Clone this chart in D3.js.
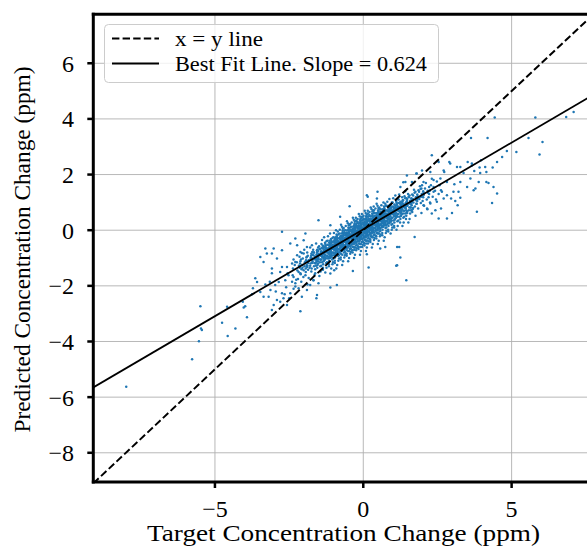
<!doctype html>
<html lang="en">
<head>
    <meta charset="utf-8">
    <title>Predicted vs Target</title>
    <script src="https://d3js.org/d3.v7.min.js"></script>
    <style>
        body { margin: 0; background: #fff; }
    </style>
</head>
<body>
<script>
    // axis ticks and fit
    var xTicks = [-5, 0, 5];
    var yTicks = [-8, -6, -4, -2, 0, 2, 4, 6];
    var slope = 0.624, intercept = 0.03;

    // [target, predicted] pairs
    var lowerTail = [
        [-7.99,-5.63],[-5.77,-4.64],[-5.54,-3.99],[-5.49,-2.73],[-5.47,-3.53],[-5.44,-3.59],[-4.76,-3.33],[-4.59,-2.75],
        [-4.57,-3.80],[-4.31,-3.53],[-4.06,-2.57],[-3.92,-3.13],[-4.03,-2.78],[-3.98,-2.73],[-3.75,-2.30],[-3.64,-1.73],
        [-3.58,-1.86],[-3.72,-2.09],[-3.47,-2.22],[-3.36,-2.39],[-3.19,-2.39],[-3.08,-2.87],[-3.02,-2.69],[-2.91,-2.51],
        [-2.80,-2.57],[-2.69,-2.45],[-2.74,-2.27],[-2.57,-2.69],[-2.46,-2.27],[-2.12,-2.91],[-3.13,-2.15],[-2.97,-1.97],
        [-2.85,-1.86],[-2.63,-1.80],[-2.52,-1.62],[-3.08,-1.38],[-3.08,-1.55],[-2.80,-1.50],[-2.74,-1.32],[-2.57,-1.32],
        [-2.40,-1.20],[-2.29,-1.14],[-2.23,-0.90],[-2.12,-0.78],[-2.91,-1.02],[-3.08,-0.84],[-3.47,-0.96],[-3.36,-1.14],
        [-3.25,-0.84],[-3.30,-0.66],[-3.02,-0.66],[-2.74,-0.72],[-2.46,-0.48],[-2.29,-0.30],[-2.23,-0.54],[-2.74,-0.06],
        [-2.01,-0.36],[-1.95,-0.12],[-2.07,-2.39],[-1.90,-2.15],[-1.79,-1.97],[-1.68,-1.80],[-1.62,-1.55],[-1.51,-1.91],
        [-1.56,-2.33],[-2.18,-2.09],[-2.29,-1.91],[-2.35,-1.68],[-2.12,-1.55],[-2.01,-1.44],[-1.90,-1.32],[-1.84,-1.08],
        [-1.68,-0.90],[-1.56,-0.72],[-1.73,-0.54],[-1.90,-0.60],[-2.01,-0.84],[-3.30,-1.95],[-2.95,-2.20],[-2.60,-2.05],
        [-2.40,-1.85],[-2.65,-2.30],[-3.15,-1.85],[-2.50,-2.45],[-2.35,-2.10],[-2.20,-1.75],[-2.55,-1.55]
    ];

    var core = [
        [-2.38,-1.62],[-2.31,-1.25],[-2.26,-1.78],[-2.35,-1.05],[-2.22,-1.45],[-2.29,-2.02],[-2.37,-1.38],[-2.24,-1.15],
        [-2.18,-1.50],[-2.12,-1.12],[-2.05,-1.35],[-2.15,-0.95],[-2.02,-1.68],[-2.09,-1.85],[-2.17,-1.28],[-2.04,-1.02],
        [-2.11,-1.58],[-2.07,-0.82],
        [-1.98,-1.30],[-1.92,-0.98],[-1.86,-1.42],[-1.95,-1.62],[-1.83,-1.08],[-1.89,-0.80],[-1.97,-1.15],[-1.84,-1.72],
        [-1.91,-1.25],[-1.87,-0.92],[-1.94,-1.50],[-1.81,-1.35],[-1.99,-0.70],[-1.88,-1.95],
        [-1.78,-1.20],[-1.72,-0.88],[-1.66,-1.30],[-1.75,-1.48],[-1.63,-0.95],[-1.69,-0.70],[-1.77,-1.02],[-1.64,-1.60],
        [-1.71,-1.12],[-1.67,-0.80],[-1.74,-1.38],[-1.61,-1.20],[-1.79,-0.62],[-1.68,-1.80],[-1.62,-1.05],[-1.76,-0.92],
        [-1.58,-1.05],[-1.52,-0.75],[-1.46,-1.15],[-1.55,-1.35],[-1.43,-0.82],[-1.49,-0.58],[-1.57,-0.90],[-1.44,-1.48],
        [-1.51,-1.00],[-1.47,-0.68],[-1.54,-1.25],[-1.41,-1.05],[-1.59,-0.48],[-1.48,-1.65],[-1.42,-0.92],[-1.56,-0.78],
        [-1.45,-1.30],[-1.53,-1.12],[-1.40,-0.65],[-1.50,-0.85],
        [-1.38,-0.92],[-1.32,-0.62],[-1.26,-1.02],[-1.35,-1.22],[-1.23,-0.70],[-1.29,-0.45],[-1.37,-0.78],[-1.24,-1.35],
        [-1.31,-0.88],[-1.27,-0.55],[-1.34,-1.12],[-1.21,-0.92],[-1.39,-0.35],[-1.28,-1.52],[-1.22,-0.80],[-1.36,-0.66],
        [-1.25,-1.18],[-1.33,-1.00],[-1.20,-0.52],[-1.30,-0.72],[-1.36,-1.42],[-1.24,-0.40],[-1.32,-0.25],[-1.27,-0.98],
        [-1.18,-0.80],[-1.12,-0.50],[-1.06,-0.90],[-1.15,-1.10],[-1.03,-0.58],[-1.09,-0.32],[-1.17,-0.65],[-1.04,-1.22],
        [-1.11,-0.75],[-1.07,-0.42],[-1.14,-1.00],[-1.01,-0.80],[-1.19,-0.22],[-1.08,-1.38],[-1.02,-0.68],[-1.16,-0.55],
        [-1.05,-1.05],[-1.13,-0.88],[-1.00,-0.40],[-1.10,-0.60],[-1.16,-1.30],[-1.04,-0.28],[-1.12,-0.12],[-1.07,-0.85],
        [-1.19,-0.95],[-1.02,-1.15],[-1.14,-0.38],[-1.09,-0.70],
        [-0.98,-0.68],[-0.92,-0.38],[-0.86,-0.78],[-0.95,-0.98],[-0.83,-0.45],[-0.89,-0.20],[-0.97,-0.53],[-0.84,-1.10],
        [-0.91,-0.62],[-0.87,-0.30],[-0.94,-0.88],[-0.81,-0.68],[-0.99,-0.10],[-0.88,-1.25],[-0.82,-0.55],[-0.96,-0.42],
        [-0.85,-0.92],[-0.93,-0.75],[-0.80,-0.28],[-0.90,-0.48],[-0.96,-1.18],[-0.84,-0.15],[-0.92,0.00],[-0.87,-0.72],
        [-0.99,-0.82],[-0.82,-1.02],[-0.94,-0.25],[-0.89,-0.58],[-0.86,-0.05],[-0.97,-0.35],[-0.83,-0.82],[-0.91,-1.38],
        [-0.78,-0.55],[-0.72,-0.25],[-0.66,-0.65],[-0.75,-0.85],[-0.63,-0.32],[-0.69,-0.08],[-0.77,-0.40],[-0.64,-0.98],
        [-0.71,-0.50],[-0.67,-0.18],[-0.74,-0.75],[-0.61,-0.55],[-0.79,0.02],[-0.68,-1.12],[-0.62,-0.42],[-0.76,-0.30],
        [-0.65,-0.80],[-0.73,-0.62],[-0.60,-0.15],[-0.70,-0.35],[-0.76,-1.05],[-0.64,-0.02],[-0.72,0.12],[-0.67,-0.60],
        [-0.79,-0.70],[-0.62,-0.90],[-0.74,-0.12],[-0.69,-0.45],[-0.66,0.08],[-0.77,-0.22],[-0.63,-0.70],[-0.71,-1.25],
        [-0.75,0.20],[-0.61,-0.28],
        [-0.58,-0.42],[-0.52,-0.12],[-0.46,-0.52],[-0.55,-0.72],[-0.43,-0.20],[-0.49,0.05],[-0.57,-0.28],[-0.44,-0.85],
        [-0.51,-0.38],[-0.47,-0.05],[-0.54,-0.62],[-0.41,-0.42],[-0.59,0.15],[-0.48,-1.00],[-0.42,-0.30],[-0.56,-0.18],
        [-0.45,-0.68],[-0.53,-0.50],[-0.40,-0.02],[-0.50,-0.22],[-0.56,-0.92],[-0.44,0.10],[-0.52,0.25],[-0.47,-0.48],
        [-0.59,-0.58],[-0.42,-0.78],[-0.54,0.00],[-0.49,-0.32],[-0.46,0.20],[-0.57,-0.10],[-0.43,-0.58],[-0.51,-1.12],
        [-0.55,0.32],[-0.41,-0.15],[-0.48,-0.75],[-0.58,-0.85],
        [-0.38,-0.30],[-0.32,0.00],[-0.26,-0.40],[-0.35,-0.60],[-0.23,-0.08],[-0.29,0.18],[-0.37,-0.16],[-0.24,-0.72],
        [-0.31,-0.25],[-0.27,0.08],[-0.34,-0.50],[-0.21,-0.30],[-0.39,0.28],[-0.28,-0.88],[-0.22,-0.18],[-0.36,-0.05],
        [-0.25,-0.55],[-0.33,-0.38],[-0.20,0.10],[-0.30,-0.10],[-0.36,-0.80],[-0.24,0.22],[-0.32,0.38],[-0.27,-0.35],
        [-0.39,-0.45],[-0.22,-0.65],[-0.34,0.12],[-0.29,-0.20],[-0.26,0.32],[-0.37,0.02],[-0.23,-0.45],[-0.31,-1.00],
        [-0.35,0.45],[-0.21,-0.02],[-0.28,-0.62],[-0.38,-0.72],[-0.25,0.45],[-0.33,-0.15],
        [-0.18,-0.18],[-0.12,0.12],[-0.06,-0.28],[-0.15,-0.48],[-0.03,0.05],[-0.09,0.30],[-0.17,-0.03],[-0.04,-0.60],
        [-0.11,-0.12],[-0.07,0.20],[-0.14,-0.38],[-0.01,-0.18],[-0.19,0.40],[-0.08,-0.75],[-0.02,-0.05],[-0.16,0.08],
        [-0.05,-0.42],[-0.13,-0.25],[0.00,0.22],[-0.10,0.02],[-0.16,-0.68],[-0.04,0.35],[-0.12,0.50],[-0.07,-0.22],
        [-0.19,-0.32],[-0.02,-0.52],[-0.14,0.25],[-0.09,-0.08],[-0.06,0.45],[-0.17,0.15],[-0.03,-0.32],[-0.11,-0.88],
        [-0.15,0.58],[-0.01,0.10],[-0.08,-0.50],[-0.18,-0.58],[-0.05,0.58],[-0.13,-0.02],[-0.10,0.38],[-0.04,-0.15],
        [0.02,-0.06],[0.08,0.25],[0.14,-0.15],[0.05,-0.35],[0.17,0.18],[0.11,0.42],[0.03,0.09],[0.16,-0.48],
        [0.09,0.00],[0.13,0.32],[0.06,-0.25],[0.19,-0.05],[0.01,0.52],[0.12,-0.62],[0.18,0.08],[0.04,0.20],
        [0.15,-0.30],[0.07,-0.12],[0.20,0.35],[0.10,0.14],[0.04,-0.55],[0.16,0.48],[0.08,0.62],[0.13,-0.10],
        [0.01,-0.20],[0.18,-0.40],[0.06,0.38],[0.11,0.05],[0.14,0.58],[0.03,0.28],[0.17,-0.20],[0.09,-0.75],
        [0.05,0.70],[0.19,0.22],[0.12,-0.38],[0.02,-0.45],[0.15,0.70],[0.07,0.10],[0.10,0.50],[0.16,-0.02],
        [0.22,0.08],[0.28,0.38],[0.34,-0.02],[0.25,-0.22],[0.37,0.30],[0.31,0.55],[0.23,0.22],[0.36,-0.35],
        [0.29,0.12],[0.33,0.45],[0.26,-0.12],[0.39,0.08],[0.21,0.65],[0.32,-0.50],[0.38,0.20],[0.24,0.32],
        [0.35,-0.18],[0.27,0.00],[0.40,0.48],[0.30,0.26],[0.24,-0.42],[0.36,0.62],[0.28,0.75],[0.33,0.02],
        [0.21,-0.08],[0.38,-0.28],[0.26,0.50],[0.31,0.18],[0.34,0.70],[0.23,0.40],[0.37,-0.08],[0.29,-0.62],
        [0.25,0.82],[0.39,0.35],[0.32,-0.25],[0.22,-0.32],[0.35,0.85],[0.27,0.22],
        [0.42,0.20],[0.48,0.50],[0.54,0.10],[0.45,-0.10],[0.57,0.42],[0.51,0.68],[0.43,0.34],[0.56,-0.22],
        [0.49,0.25],[0.53,0.58],[0.46,0.00],[0.59,0.20],[0.41,0.78],[0.52,-0.38],[0.58,0.32],[0.44,0.45],
        [0.55,-0.05],[0.47,0.12],[0.60,0.60],[0.50,0.38],[0.44,-0.30],[0.56,0.75],[0.48,0.88],[0.53,0.15],
        [0.41,0.05],[0.58,-0.15],[0.46,0.62],[0.51,0.30],[0.54,0.82],[0.43,0.52],[0.57,0.05],[0.49,-0.50],
        [0.45,0.95],[0.59,0.48],[0.52,-0.12],[0.42,-0.20],
        [0.62,0.32],[0.68,0.62],[0.74,0.22],[0.65,0.02],[0.77,0.55],[0.71,0.80],[0.63,0.46],[0.76,-0.10],
        [0.69,0.38],[0.73,0.70],[0.66,0.12],[0.79,0.32],[0.61,0.90],[0.72,-0.25],[0.78,0.45],[0.64,0.58],
        [0.75,0.08],[0.67,0.25],[0.80,0.72],[0.70,0.50],[0.64,-0.18],[0.76,0.88],[0.68,1.00],[0.73,0.28],
        [0.61,0.18],[0.78,-0.02],[0.66,0.75],[0.71,0.42],[0.74,0.95],[0.63,0.65],[0.77,0.18],[0.69,-0.38],
        [0.82,0.45],[0.88,0.75],[0.94,0.35],[0.85,0.15],[0.97,0.68],[0.91,0.92],[0.83,0.59],[0.96,0.02],
        [0.89,0.50],[0.93,0.82],[0.86,0.25],[0.99,0.45],[0.81,1.02],[0.92,-0.12],[0.98,0.58],[0.84,0.70],
        [0.95,0.20],[0.87,0.38],[1.00,0.85],[0.90,0.62],[0.84,-0.05],[0.96,1.00],[0.88,1.12],[0.93,0.40],
        [0.81,0.30],[0.98,0.10],[0.86,0.88],[0.91,0.55],
        [1.02,0.58],[1.08,0.88],[1.14,0.48],[1.05,0.28],[1.17,0.80],[1.11,1.05],[1.03,0.72],[1.16,0.15],
        [1.09,0.62],[1.13,0.95],[1.06,0.38],[1.19,0.58],[1.01,1.15],[1.12,0.02],[1.18,0.70],[1.04,0.82],
        [1.15,0.32],[1.07,0.50],[1.20,0.98],[1.10,0.75],[1.04,0.10],[1.16,1.12],[1.08,1.25],[1.13,0.52],
        [1.22,0.70],[1.28,1.00],[1.34,0.60],[1.25,0.40],[1.37,0.92],[1.31,1.18],[1.23,0.84],[1.36,0.28],
        [1.29,0.75],[1.33,1.08],[1.26,0.50],[1.39,0.70],[1.21,1.28],[1.32,0.15],[1.38,0.82],[1.24,0.95],
        [1.35,0.45],[1.27,0.62],
        [1.42,0.82],[1.48,1.12],[1.54,0.72],[1.45,0.52],[1.57,1.05],[1.51,1.30],[1.43,0.96],[1.56,0.40],
        [1.49,0.88],[1.53,1.20],[1.46,0.62],[1.59,0.82],[1.41,1.40],[1.52,0.28],
        [1.62,0.95],[1.68,1.25],[1.74,0.85],[1.65,0.65],[1.77,1.18],[1.71,1.45],[1.63,1.10],[1.76,0.52],
        [1.69,1.00],[1.73,1.35],[1.66,0.75],[1.79,0.95],
        [1.82,1.05],[1.88,1.38],[1.94,0.98],[1.85,0.78],[1.97,1.30],[1.91,1.58],[1.83,1.22],[1.96,0.62],
        [1.89,1.12],[1.93,1.48],
        [2.02,1.18],[2.08,1.50],[2.14,1.10],[2.05,0.88],[2.17,1.42],[2.11,1.70],[2.03,1.35],[2.16,0.75],
        [2.22,1.30],[2.28,1.62],[2.34,1.20],[2.25,1.00],[2.37,1.55],[2.31,1.85],
        [2.42,1.42],[2.48,1.75],[2.54,1.30],[2.45,1.10],[2.57,1.62]
    ];

    // the packed middle of the cloud
    var coreInner = [
        [-1.65,-1.18],[-1.60,-0.98],[-1.55,-0.70],[-1.62,-1.40],[-1.57,-1.10],[-1.53,-0.88],[-1.66,-0.80],[-1.59,-1.28],[-1.64,-1.02],[-1.52,-1.20],
        [-1.45,-1.05],[-1.40,-0.85],[-1.35,-0.58],[-1.42,-1.28],[-1.37,-0.98],[-1.33,-0.75],[-1.46,-0.68],[-1.39,-1.15],[-1.44,-0.90],[-1.32,-1.08],[-1.41,-0.50],[-1.36,-1.35],
        [-1.25,-0.92],[-1.20,-0.72],[-1.15,-0.45],[-1.22,-1.15],[-1.17,-0.85],[-1.13,-0.62],[-1.26,-0.55],[-1.19,-1.02],[-1.24,-0.78],[-1.12,-0.95],[-1.21,-0.38],[-1.16,-1.22],[-1.23,-0.65],[-1.14,-0.78],
        [-1.05,-0.80],[-1.00,-0.60],[-0.95,-0.32],[-1.02,-1.02],[-0.97,-0.72],[-0.93,-0.50],[-1.06,-0.42],[-0.99,-0.90],[-1.04,-0.65],[-0.92,-0.82],[-1.01,-0.25],[-0.96,-1.10],[-1.03,-0.52],[-0.94,-0.65],[-0.98,-0.45],[-1.07,-0.95],
        [-0.85,-0.68],[-0.80,-0.48],[-0.75,-0.20],[-0.82,-0.90],[-0.77,-0.60],[-0.73,-0.38],[-0.86,-0.30],[-0.79,-0.78],[-0.84,-0.52],[-0.72,-0.70],[-0.81,-0.12],[-0.76,-0.98],[-0.83,-0.40],[-0.74,-0.52],[-0.78,-0.32],[-0.87,-0.82],[-0.80,-0.65],[-0.75,-0.45],
        [-0.65,-0.55],[-0.60,-0.35],[-0.55,-0.08],[-0.62,-0.78],[-0.57,-0.48],[-0.53,-0.25],[-0.66,-0.18],[-0.59,-0.65],[-0.64,-0.40],[-0.52,-0.58],[-0.61,0.00],[-0.56,-0.85],[-0.63,-0.28],[-0.54,-0.40],[-0.58,-0.20],[-0.67,-0.70],[-0.60,-0.52],[-0.55,-0.32],[-0.62,-0.10],[-0.57,-0.62],
        [-0.45,-0.42],[-0.40,-0.22],[-0.35,0.05],[-0.42,-0.65],[-0.37,-0.35],[-0.33,-0.12],[-0.46,-0.05],[-0.39,-0.52],[-0.44,-0.28],[-0.32,-0.45],[-0.41,0.12],[-0.36,-0.72],[-0.43,-0.15],[-0.34,-0.28],[-0.38,-0.08],[-0.47,-0.58],[-0.40,-0.40],[-0.35,-0.20],[-0.42,0.02],[-0.37,-0.50],[-0.44,0.22],[-0.33,-0.60],
        [-0.25,-0.30],[-0.20,-0.10],[-0.15,0.18],[-0.22,-0.52],[-0.17,-0.22],[-0.13,0.00],[-0.26,0.08],[-0.19,-0.40],[-0.24,-0.15],[-0.12,-0.32],[-0.21,0.25],[-0.16,-0.60],[-0.23,-0.02],[-0.14,-0.15],[-0.18,0.05],[-0.27,-0.45],[-0.20,-0.28],[-0.15,-0.08],[-0.22,0.15],[-0.17,-0.38],[-0.24,0.35],[-0.13,-0.48],[-0.19,0.30],[-0.26,-0.22],
        [-0.05,-0.18],[0.00,0.02],[0.05,0.30],[-0.02,-0.40],[0.03,-0.10],[0.07,0.12],[-0.06,0.20],[0.01,-0.28],[-0.04,-0.02],[0.08,-0.20],[-0.01,0.38],[0.04,-0.48],[-0.03,0.10],[0.06,-0.02],[0.02,0.18],[-0.07,-0.32],[0.00,-0.15],[0.05,0.05],[-0.02,0.28],[0.03,-0.25],[-0.04,0.48],[0.07,-0.35],[0.01,0.42],[-0.06,-0.10],
        [0.15,-0.05],[0.20,0.15],[0.25,0.42],[0.18,-0.28],[0.23,0.02],[0.27,0.25],[0.14,0.32],[0.21,-0.15],[0.16,0.10],[0.28,-0.08],[0.19,0.50],[0.24,-0.35],[0.17,0.22],[0.26,0.10],[0.22,0.30],[0.13,-0.20],[0.20,-0.02],[0.25,0.18],[0.18,0.40],[0.23,-0.12],[0.16,0.60],[0.27,-0.22],[0.21,0.55],[0.14,0.02],
        [0.35,0.08],[0.40,0.28],[0.45,0.55],[0.38,-0.15],[0.43,0.15],[0.47,0.38],[0.34,0.45],[0.41,-0.02],[0.36,0.22],[0.48,0.05],[0.39,0.62],[0.44,-0.22],[0.37,0.35],[0.46,0.22],[0.42,0.42],[0.33,-0.08],[0.40,0.10],[0.45,0.30],[0.38,0.52],[0.43,0.00],[0.36,0.72],[0.47,-0.10],
        [0.55,0.20],[0.60,0.40],[0.65,0.68],[0.58,-0.02],[0.63,0.28],[0.67,0.50],[0.54,0.58],[0.61,0.10],[0.56,0.35],[0.68,0.18],[0.59,0.75],[0.64,-0.10],[0.57,0.48],[0.66,0.35],[0.62,0.55],[0.53,0.05],[0.60,0.22],[0.65,0.42],[0.58,0.65],[0.63,0.12],
        [0.75,0.32],[0.80,0.52],[0.85,0.80],[0.78,0.10],[0.83,0.40],[0.87,0.62],[0.74,0.70],[0.81,0.22],[0.76,0.48],[0.88,0.30],[0.79,0.88],[0.84,0.02],[0.77,0.60],[0.86,0.48],[0.82,0.68],[0.73,0.18],[0.80,0.35],[0.85,0.55],
        [0.95,0.45],[1.00,0.65],[1.05,0.92],[0.98,0.22],[1.03,0.52],[1.07,0.75],[0.94,0.82],[1.01,0.35],[0.96,0.60],[1.08,0.42],[0.99,1.00],[1.04,0.15],[0.97,0.72],[1.06,0.60],[1.02,0.80],[0.93,0.30],
        [1.15,0.58],[1.20,0.78],[1.25,1.02],[1.18,0.35],[1.23,0.65],[1.27,0.88],[1.14,0.95],[1.21,0.48],[1.16,0.72],[1.28,0.55],[1.19,1.10],[1.24,0.28],[1.17,0.85],[1.26,0.72],
        [1.35,0.70],[1.40,0.90],[1.45,1.15],[1.38,0.48],[1.43,0.78],[1.47,1.00],[1.34,1.08],[1.41,0.60],[1.36,0.85],[1.48,0.68],[1.39,1.22],[1.44,0.40],
        [1.55,0.82],[1.60,1.02],[1.65,1.28],[1.58,0.60],[1.63,0.90],[1.67,1.12],[1.54,1.18],[1.61,0.72],[1.56,0.98],[1.68,0.80]
    ];

    // the solid centre, where the dots overlap
    var coreDense = [
        [-1.31,-0.70],[-1.29,-0.88],[-1.28,-0.60],[-1.32,-0.95],[-1.30,-0.80],[-1.27,-0.68],[-1.33,-0.85],[-1.30,-1.05],[-1.28,-0.50],[-1.31,-0.75],
        [-1.11,-0.58],[-1.09,-0.75],[-1.08,-0.48],[-1.12,-0.82],[-1.10,-0.66],[-1.07,-0.55],[-1.13,-0.72],[-1.10,-0.92],[-1.08,-0.38],[-1.11,-0.62],[-1.09,-0.45],[-1.12,-1.00],
        [-0.91,-0.45],[-0.89,-0.62],[-0.88,-0.36],[-0.92,-0.70],[-0.90,-0.53],[-0.87,-0.42],[-0.93,-0.60],[-0.90,-0.80],[-0.88,-0.25],[-0.91,-0.50],[-0.89,-0.32],[-0.92,-0.88],[-0.90,-0.15],[-0.88,-0.68],
        [-0.71,-0.32],[-0.69,-0.50],[-0.68,-0.22],[-0.72,-0.58],[-0.70,-0.40],[-0.67,-0.30],[-0.73,-0.48],[-0.70,-0.68],[-0.68,-0.12],[-0.71,-0.38],[-0.69,-0.20],[-0.72,-0.75],[-0.70,-0.02],[-0.68,-0.55],[-0.71,-0.88],[-0.69,0.05],
        [-0.51,-0.20],[-0.49,-0.38],[-0.48,-0.10],[-0.52,-0.45],[-0.50,-0.28],[-0.47,-0.18],[-0.53,-0.35],[-0.50,-0.55],[-0.48,0.00],[-0.51,-0.25],[-0.49,-0.08],[-0.52,-0.62],[-0.50,0.10],[-0.48,-0.42],[-0.51,-0.75],[-0.49,0.18],[-0.53,-0.15],[-0.47,-0.52],
        [-0.31,-0.08],[-0.29,-0.25],[-0.28,0.02],[-0.32,-0.32],[-0.30,-0.16],[-0.27,-0.05],[-0.33,-0.22],[-0.30,-0.42],[-0.28,0.12],[-0.31,-0.12],[-0.29,0.05],[-0.32,-0.50],[-0.30,0.22],[-0.28,-0.30],[-0.31,-0.62],[-0.29,0.30],[-0.33,-0.02],[-0.27,-0.40],[-0.30,-0.70],[-0.32,0.15],
        [-0.11,0.05],[-0.09,-0.12],[-0.08,0.15],[-0.12,-0.20],[-0.10,-0.03],[-0.07,0.08],[-0.13,-0.10],[-0.10,-0.30],[-0.08,0.25],[-0.11,0.00],[-0.09,0.18],[-0.12,-0.38],[-0.10,0.35],[-0.08,-0.18],[-0.11,-0.50],[-0.09,0.42],[-0.13,0.10],[-0.07,-0.28],[-0.10,-0.60],[-0.12,0.28],
        [0.09,0.17],[0.11,0.00],[0.12,0.28],[0.08,-0.08],[0.10,0.09],[0.13,0.20],[0.07,0.02],[0.10,-0.18],[0.12,0.38],[0.09,0.12],[0.11,0.30],[0.08,-0.25],[0.10,0.48],[0.12,-0.05],[0.09,-0.38],[0.11,0.55],[0.07,0.22],[0.13,-0.15],[0.10,-0.48],[0.08,0.40],
        [0.29,0.30],[0.31,0.12],[0.32,0.40],[0.28,0.05],[0.30,0.22],[0.33,0.32],[0.27,0.15],[0.30,-0.05],[0.32,0.50],[0.29,0.25],[0.31,0.42],[0.28,-0.12],[0.30,0.60],[0.32,0.08],[0.29,-0.25],[0.31,0.68],[0.27,0.35],[0.33,-0.02],
        [0.49,0.42],[0.51,0.25],[0.52,0.52],[0.48,0.18],[0.50,0.34],[0.53,0.45],[0.47,0.28],[0.50,0.08],[0.52,0.62],[0.49,0.38],[0.51,0.55],[0.48,0.00],[0.50,0.72],[0.52,0.20],[0.49,-0.12],[0.51,0.80],
        [0.69,0.55],[0.71,0.38],[0.72,0.65],[0.68,0.30],[0.70,0.46],[0.73,0.58],[0.67,0.40],[0.70,0.20],[0.72,0.75],[0.69,0.50],[0.71,0.68],[0.68,0.12],[0.70,0.85],[0.72,0.32],
        [0.89,0.68],[0.91,0.50],[0.92,0.78],[0.88,0.42],[0.90,0.59],[0.93,0.70],[0.87,0.52],[0.90,0.32],[0.92,0.88],[0.89,0.62],[0.91,0.80],[0.88,0.25],
        [1.09,0.80],[1.11,0.62],[1.12,0.90],[1.08,0.55],[1.10,0.71],[1.13,0.82],[1.07,0.65],[1.10,0.45],[1.12,1.00],[1.09,0.75],
        [1.29,0.92],[1.31,0.75],[1.32,1.02],[1.28,0.68],[1.30,0.84],[1.33,0.95],[1.27,0.78],[1.30,0.58]
    ];

    // thicker shoulders either side of the centre
    var shoulders = [
        [-2.13,-1.20],[-2.08,-1.40],[-2.10,-1.05],[-2.06,-1.25],[-2.14,-1.35],
        [-1.93,-1.08],[-1.88,-1.28],[-1.90,-0.95],[-1.86,-1.18],[-1.94,-1.38],[-1.91,-1.12],
        [-1.77,-0.98],[-1.73,-1.18],[-1.75,-0.85],[-1.71,-1.05],[-1.79,-1.28],[-1.74,-1.00],[-1.72,-0.78],
        [-1.57,-0.86],[-1.53,-1.05],[-1.55,-0.72],[-1.51,-0.93],[-1.59,-1.15],[-1.54,-0.88],[-1.52,-0.62],[-1.56,-1.00],
        [-1.42,-0.76],[-1.38,-0.96],[-1.40,-0.64],[-1.36,-0.84],[-1.44,-1.06],[-1.39,-0.78],[-1.37,-0.55],[-1.41,-0.90],
        [1.43,0.86],[1.47,1.05],[1.45,0.72],[1.49,0.93],[1.41,1.15],[1.46,0.88],[1.48,0.62],[1.44,1.00],
        [1.58,0.95],[1.62,1.15],[1.60,0.82],[1.64,1.02],[1.56,1.25],[1.61,0.98],[1.63,0.70],
        [1.78,1.08],[1.82,1.28],[1.80,0.95],[1.84,1.15],[1.76,1.38],[1.81,1.10],
        [1.98,1.20],[2.02,1.40],[2.00,1.05],[2.04,1.27],[1.96,1.50],
        [2.18,1.35],[2.22,1.55],[2.20,1.18],[2.24,1.42]
    ];

    var upperTail = [
        [4.43,4.05],[5.80,4.05],[6.04,3.17],[5.94,2.72],[5.57,3.31],[5.16,2.81],[4.84,2.85],[4.19,3.31],
        [3.63,3.31],[4.68,2.63],[4.51,2.45],[4.36,2.25],[4.11,2.27],[4.15,2.09],[3.92,2.25],[3.94,2.06],
        [3.74,2.13],[3.52,2.45],[3.66,2.40],[3.27,2.27],[3.38,2.06],[2.93,2.40],[2.90,2.45],[2.73,2.09],
        [2.60,1.86],[2.31,2.69],[2.26,2.09],[1.98,2.15],[1.79,2.04],[2.03,1.73],[2.37,1.80],[2.62,1.44],
        [2.82,1.73],[3.07,1.65],[3.27,1.73],[3.61,1.86],[3.89,1.73],[4.15,1.73],[4.22,1.70],[4.39,1.55],
        [4.51,1.32],[4.34,0.98],[3.83,0.66],[3.72,1.44],[3.78,1.50],[3.50,1.55],[3.21,1.38],[3.27,1.17],
        [3.04,1.38],[2.96,1.14],[3.10,1.05],[2.71,1.14],[2.82,1.26],[2.65,1.38],[3.18,0.90],[2.99,0.62],
        [2.62,0.78],[2.48,1.02],[2.26,0.96],[2.43,0.72],[2.31,0.60],[2.15,0.78],[2.03,0.90],[1.92,1.20],
        [1.86,1.44],[1.64,1.73],[1.42,1.73],[1.47,1.97],[1.98,1.62],[2.37,1.38],[2.82,0.42],[2.54,0.42],
        [6.84,4.07],[7.09,4.25],[3.16,2.27],[3.66,2.33],[3.97,2.51],[2.71,2.15],[2.54,2.45],[1.80,2.04]
    ];

    var stray = [
        [1.25,1.55],[1.35,1.72],[0.46,1.14],[0.48,1.38],[0.12,1.26],[0.15,1.20],[-0.46,0.86],[-0.78,0.48],
        [-1.11,0.18],[-1.51,0.36],[0.74,-0.60],[1.14,-0.60],[1.25,-0.98],[0.18,-1.34],[1.14,-1.26],[0.12,-0.86],
        [0.57,-0.66],[1.73,-0.24],[1.11,-1.28],[1.21,-0.60],[1.45,-1.80],[-0.89,-1.97],[-0.35,-1.47],[-1.11,-1.56],
        [-0.98,-1.44],[-1.11,-2.06],[-1.58,-2.45]
    ];

    var points = lowerTail.concat(core, coreInner, coreDense, shoulders, upperTail, stray);

    var width = 587, height = 546;
    var margin = {left: 93.3, top: 14.3};
    var plotW = 500.2, plotH = 467.7;
    var serif = "'Liberation Serif', 'Times New Roman', serif";

    var x = d3.scaleLinear().domain([-9.1, 7.76]).range([margin.left, margin.left + plotW]);
    var y = d3.scaleLinear().domain([-9.05, 7.76]).range([margin.top + plotH, margin.top]);

    var svg = d3.select("body").append("svg")
        .attr("width", width)
        .attr("height", height)
        .attr("font-family", serif);

    svg.append("clipPath").attr("id", "plot")
        .append("rect")
        .attr("x", margin.left).attr("y", margin.top)
        .attr("width", plotW).attr("height", plotH);

    var plot = svg.append("g").attr("clip-path", "url(#plot)");

    // grid
    plot.selectAll(".gx").data(xTicks).enter().append("line")
        .attr("x1", d => x(d)).attr("x2", d => x(d))
        .attr("y1", margin.top).attr("y2", margin.top + plotH)
        .attr("stroke", "#b0b0b0").attr("stroke-width", 0.9);
    plot.selectAll(".gy").data(yTicks).enter().append("line")
        .attr("y1", d => y(d)).attr("y2", d => y(d))
        .attr("x1", margin.left).attr("x2", margin.left + plotW)
        .attr("stroke", "#b0b0b0").attr("stroke-width", 0.9);

    // scatter
    plot.selectAll("circle").data(points).enter().append("circle")
        .attr("cx", d => x(d[0]))
        .attr("cy", d => y(d[1]))
        .attr("r", 1.25)
        .attr("fill", "#1f77b4");

    // x = y line and fit line
    var xd = x.domain();
    plot.append("line")
        .attr("x1", x(xd[0])).attr("y1", y(xd[0]))
        .attr("x2", x(xd[1])).attr("y2", y(xd[1]))
        .attr("stroke", "#000").attr("stroke-width", 2)
        .attr("stroke-dasharray", "7.4,3.2");
    plot.append("line")
        .attr("x1", x(xd[0])).attr("y1", y(slope * xd[0] + intercept))
        .attr("x2", x(xd[1])).attr("y2", y(slope * xd[1] + intercept))
        .attr("stroke", "#000").attr("stroke-width", 1.8);

    // legend
    var lg = svg.append("g");
    lg.append("rect")
        .attr("x", 104.5).attr("y", 24.5).attr("width", 334).attr("height", 58)
        .attr("rx", 4)
        .attr("fill", "#fff").attr("fill-opacity", 0.8)
        .attr("stroke", "#cccccc").attr("stroke-width", 1);
    var entries = [
        {label: "x = y line", dash: "7.4,3.2", y: 38.5, len: 88},
        {label: "Best Fit Line. Slope = " + slope.toFixed(3), dash: null, y: 63.5, len: 252}
    ];
    entries.forEach(function (e) {
        lg.append("line")
            .attr("x1", 112).attr("x2", 159)
            .attr("y1", e.y).attr("y2", e.y)
            .attr("stroke", "#000").attr("stroke-width", 2)
            .attr("stroke-dasharray", e.dash);
        lg.append("text")
            .attr("x", 175).attr("y", e.y + 7)
            .attr("font-family", serif)
            .attr("font-size", 20.5)
            .attr("textLength", e.len).attr("lengthAdjust", "spacingAndGlyphs")
            .text(e.label);
    });

    // spines
    svg.append("line")
        .attr("x1", margin.left).attr("x2", margin.left)
        .attr("y1", margin.top - 1.5).attr("y2", margin.top + plotH + 1.5)
        .attr("stroke", "#000").attr("stroke-width", 3);
    svg.append("line")
        .attr("x1", margin.left - 1.5).attr("x2", width)
        .attr("y1", margin.top + plotH).attr("y2", margin.top + plotH)
        .attr("stroke", "#000").attr("stroke-width", 3);
    svg.append("line")
        .attr("x1", margin.left - 1.5).attr("x2", width)
        .attr("y1", margin.top).attr("y2", margin.top)
        .attr("stroke", "#000").attr("stroke-width", 3);

    // ticks
    var fmt = d => d < 0 ? "\u2212" + Math.abs(d) : String(d);
    svg.selectAll(".tx").data(xTicks).enter().append("line")
        .attr("x1", d => x(d)).attr("x2", d => x(d))
        .attr("y1", margin.top + plotH).attr("y2", margin.top + plotH + 6)
        .attr("stroke", "#000").attr("stroke-width", 2.5);
    svg.selectAll(".lx").data(xTicks).enter().append("text")
        .attr("x", d => x(d)).attr("y", 517)
        .attr("text-anchor", "middle")
        .attr("font-family", serif).attr("font-size", 24)
        .text(fmt);
    svg.selectAll(".ty").data(yTicks).enter().append("line")
        .attr("y1", d => y(d)).attr("y2", d => y(d))
        .attr("x1", margin.left).attr("x2", margin.left - 6)
        .attr("stroke", "#000").attr("stroke-width", 2.5);
    svg.selectAll(".ly").data(yTicks).enter().append("text")
        .attr("x", 74).attr("y", d => y(d) + 8.5)
        .attr("text-anchor", "end")
        .attr("font-family", serif).attr("font-size", 24)
        .text(fmt);

    // axis labels
    svg.append("text")
        .attr("x", 343.5).attr("y", 541)
        .attr("text-anchor", "middle")
        .attr("font-family", serif).attr("font-size", 23)
        .attr("textLength", 393).attr("lengthAdjust", "spacingAndGlyphs")
        .text("Target Concentration Change (ppm)");
    svg.append("text")
        .attr("transform", "translate(30,249.5) rotate(-90)")
        .attr("text-anchor", "middle")
        .attr("font-family", serif).attr("font-size", 23)
        .attr("textLength", 366).attr("lengthAdjust", "spacingAndGlyphs")
        .text("Predicted Concentration Change (ppm)");
</script>
</body>
</html>
